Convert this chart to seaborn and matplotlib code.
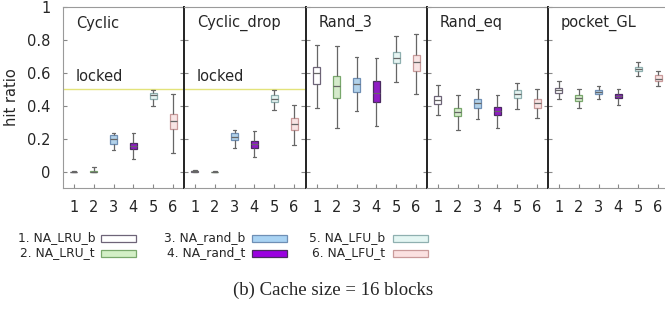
import numpy as np
import pandas as pd
import matplotlib
matplotlib.use("Agg")
import matplotlib.pyplot as plt
import matplotlib.transforms as mtransforms
from matplotlib.patches import Rectangle
import seaborn as sns

# ── data: five-number summaries (whisker low, q1, median, q3, whisker high) ──
schemes = ["NA_LRU_b", "NA_LRU_t", "NA_rand_b", "NA_rand_t", "NA_LFU_b", "NA_LFU_t"]
panels = ["Cyclic", "Cyclic_drop", "Rand_3", "Rand_eq", "pocket_GL"]

cyclic = [[0.0, 0.0, 0.0, 0.0, 0.005],
          [0.0, 0.0, 0.0, 0.005, 0.03],
          [0.13, 0.17, 0.20, 0.225, 0.233],
          [0.077, 0.134, 0.155, 0.175, 0.233],
          [0.397, 0.443, 0.463, 0.48, 0.494],
          [0.114, 0.26, 0.307, 0.348, 0.474]]
cyclic_drop = [[0.0, 0.0, 0.003, 0.006, 0.008],
               [0.0, 0.0, 0.0, 0.0, 0.002],
               [0.142, 0.19, 0.21, 0.234, 0.25],
               [0.091, 0.142, 0.165, 0.185, 0.246],
               [0.372, 0.423, 0.44, 0.468, 0.498],
               [0.159, 0.254, 0.287, 0.327, 0.402]]
rand_3 = [[0.388, 0.535, 0.596, 0.636, 0.772],
          [0.264, 0.447, 0.52, 0.579, 0.764],
          [0.366, 0.484, 0.53, 0.571, 0.697],
          [0.274, 0.423, 0.48, 0.549, 0.691],
          [0.545, 0.657, 0.693, 0.727, 0.825],
          [0.474, 0.612, 0.667, 0.707, 0.835]]
rand_eq = [[0.341, 0.409, 0.433, 0.457, 0.524],
           [0.254, 0.335, 0.362, 0.388, 0.468],
           [0.321, 0.388, 0.419, 0.439, 0.504],
           [0.264, 0.341, 0.365, 0.392, 0.468],
           [0.382, 0.449, 0.474, 0.494, 0.538],
           [0.327, 0.388, 0.419, 0.439, 0.504]]
pocket_gl = [[0.443, 0.477, 0.498, 0.51, 0.549],
             [0.386, 0.429, 0.447, 0.463, 0.504],
             [0.443, 0.474, 0.484, 0.494, 0.518],
             [0.407, 0.447, 0.46, 0.474, 0.504],
             [0.581, 0.61, 0.622, 0.636, 0.663],
             [0.52, 0.549, 0.565, 0.585, 0.612]]
summaries = [cyclic, cyclic_drop, rand_3, rand_eq, pocket_gl]

locked_level = 0.5
fills = ["#ffffff", "#d3efc6", "#a9d3f3", "#9a00e0", "#e4f6f3", "#fbe1e1"]
edges = ["#6e6478", "#79a86c", "#6f8fb5", "#4a2a60", "#8fb0b0", "#c99a9a"]

# long-form table; 5 points per box -> quartiles land exactly on the summary
rows = []
for p, summ in zip(panels, summaries):
    for s, vals in zip(schemes, summ):
        for v in vals:
            rows.append({"panel": p, "scheme": s, "value": v})
df = pd.DataFrame(rows)

# ─────────────────────────────────────────────
# figure
# ─────────────────────────────────────────────
sns.set_style("white")
plt.rcParams["font.family"] = ["DejaVu Sans"]
W, H = 665, 312
fig = plt.figure(figsize=(W / 100, H / 100), dpi=100)

lefts = [63, 184, 306, 427, 548]
pw, top, bot = 121, 7, 188
pal = dict(zip(schemes, fills))

for i, (p, left) in enumerate(zip(panels, lefts)):
    ax = fig.add_axes([left / W, 1 - bot / H, pw / W, (bot - top) / H])
    sub = df[df.panel == p]
    sns.boxplot(data=sub, x="scheme", y="value", hue="scheme", order=schemes,
                hue_order=schemes, palette=pal, whis=(0, 100), width=0.36,
                showfliers=False, linecolor="#666666", linewidth=0.9,
                legend=False, ax=ax)
    for patch, ec in zip(ax.patches, edges):
        patch.set_edgecolor(ec)
    ax.set_xlim(-0.55, 5.55)
    ax.set_ylim(-0.1, 1.0)
    ax.set_xticks(range(6))
    ax.set_xticklabels([str(k + 1) for k in range(6)], fontsize=10.5)
    ax.set_yticks(np.arange(0, 1.01, 0.2))
    ax.set_xlabel("")
    ax.tick_params(axis="both", direction="in", length=3, color="#888888",
                   left=True, right=True, bottom=True, top=False)
    ax.tick_params(axis="x", pad=9)
    if i == 0:
        ax.set_yticklabels(["0", "0.2", "0.4", "0.6", "0.8", "1"], fontsize=10.5)
        ax.tick_params(axis="y", pad=9)
        ax.set_ylabel("hit ratio", fontsize=10.5, labelpad=6)
    else:
        ax.set_yticklabels([])
        ax.set_ylabel("")
    for side in ["top", "bottom", "left", "right"]:
        ax.spines[side].set_color("#9a9a9a")
        ax.spines[side].set_linewidth(0.8)
    ax.spines["right"].set_visible(False)
    if i > 0:
        ax.spines["left"].set_color("#222222")
        ax.spines["left"].set_linewidth(1.4)
    ax.text(0.107, 0.91, p, transform=ax.transAxes, fontsize=10.5,
            va="center", ha="left")
    if i < 2:
        ax.axhline(locked_level, color="#e3e37a", lw=1.0, zorder=0)
        trans = mtransforms.blended_transform_factory(ax.transAxes, ax.transData)
        ax.text(0.107, 0.575, "locked", transform=trans, fontsize=10.5,
                va="center", ha="left")

# legend (gnuplot style: label then swatch)
col_text_x = [95, 245, 385]
col_sw_x = [101, 252, 393]
row_y = [238, 253]
for k, (name, fc, ec) in enumerate(zip(schemes, fills, edges)):
    c, r = k // 2, k % 2
    fig.text(col_text_x[c] / W, 1 - row_y[r] / H, f"{k + 1}. {name}",
             fontsize=8.8, ha="right", va="center")
    fig.add_artist(Rectangle((col_sw_x[c] / W, 1 - (row_y[r] + 3.5) / H),
                             35 / W, 7 / H, transform=fig.transFigure,
                             facecolor=fc, edgecolor=ec, lw=0.9))

fig.text(333 / W, 1 - 290 / H, "(b) Cache size = 16 blocks",
         fontsize=13.5, family="Liberation Serif", ha="center", va="center")

fig.savefig("out.png", dpi=100)
